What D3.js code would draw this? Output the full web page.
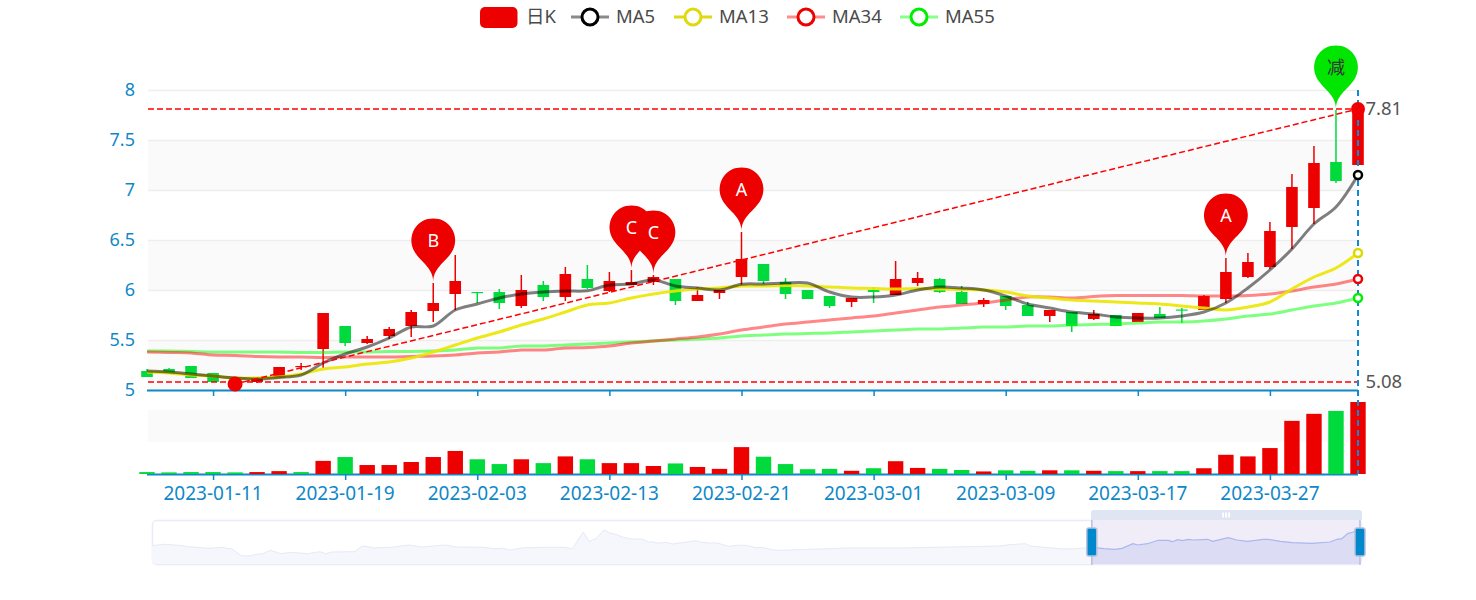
<!DOCTYPE html>
<html><head><meta charset="utf-8">
<script src="https://cdn.jsdelivr.net/npm/d3@7"></script>
<style>html,body{margin:0;padding:0;background:#fff}svg{display:block}text{font-family:"Noto Sans","Noto Sans CJK SC",sans-serif}</style>
</head><body><svg id="c" width="1476" height="600"></svg>
<script>
const tickDates=["2023-01-11","2023-01-19","2023-02-03","2023-02-13","2023-02-21","2023-03-01","2023-03-09","2023-03-17","2023-03-27"];
const tickIndex=[3,9,15,21,27,33,39,45,51];
const priceTicks=[5,5.5,6,6.5,7,7.5,8];
const opens=[5.19,5.21,5.24,5.17,5.09,5.08,5.12,5.24,5.41,5.64,5.47,5.54,5.64,5.79,5.96,5.98,5.98,5.84,6.05,5.93,6.11,5.99,6.05,6.08,6.11,5.89,5.97,6.13,6.26,6.08,6.00,5.94,5.88,6.00,5.95,6.07,6.11,5.98,5.86,5.94,5.85,5.74,5.78,5.71,5.75,5.68,5.76,5.805,5.80,5.91,6.13,6.23,6.63,6.82,7.28,7.25];
const closes=[5.13,5.17,5.12,5.08,5.08,5.12,5.23,5.24,5.77,5.47,5.51,5.61,5.78,5.87,6.09,5.97,5.87,6.00,5.93,6.16,6.02,6.09,6.08,6.13,5.89,5.95,6.00,6.31,6.09,5.96,5.91,5.84,5.92,5.98,6.11,6.12,5.98,5.86,5.90,5.84,5.74,5.80,5.64,5.76,5.64,5.77,5.72,5.795,5.94,6.18,6.28,6.59,7.03,7.27,7.09,7.81];
const lows=[5.13,5.17,5.12,5.08,5.06,5.07,5.12,5.20,5.22,5.44,5.46,5.51,5.53,5.68,5.80,5.87,5.81,5.82,5.89,5.89,6.01,5.98,6.05,6.05,5.85,5.89,5.91,6.05,6.06,5.91,5.91,5.82,5.83,5.87,5.95,6.04,5.97,5.86,5.83,5.80,5.74,5.68,5.58,5.70,5.64,5.68,5.72,5.67,5.80,5.87,6.12,6.21,6.41,6.66,7.07,7.25];
const highs=[5.21,5.22,5.24,5.17,5.09,5.12,5.23,5.27,5.77,5.64,5.54,5.63,5.80,6.07,6.35,5.98,6.01,6.15,6.09,6.23,6.25,6.18,6.20,6.15,6.11,6.03,6.00,6.58,6.26,6.12,6.00,5.94,5.92,6.03,6.29,6.18,6.12,6.04,5.92,5.94,5.88,5.80,5.78,5.80,5.75,5.77,5.83,5.82,5.95,6.32,6.37,6.68,7.16,7.44,7.80,7.81];
const volumes=[.06,.05,.06,.06,.05,.06,.09,.06,.41,.53,.28,.28,.375,.53,.72,.46,.31,.46,.34,.55,.46,.34,.34,.25,.33,.22,.16,.84,.54,.31,.15,.16,.10,.18,.40,.19,.16,.125,.08,.115,.10,.115,.115,.10,.09,.09,.09,.09,.18,.60,.55,.81,1.66,1.88,1.97,2.25];
const ma5=[5.19,5.18,5.16,5.14,5.12,5.11,5.125,5.15,5.27,5.36,5.43,5.52,5.63,5.64,5.80,5.86,5.92,5.96,5.98,5.99,5.993,6.05,6.06,6.10,6.04,6.02,6.00,6.057,6.06,6.07,6.07,5.98,5.93,5.93,5.95,6.00,6.03,6.02,6.00,5.94,5.86,5.82,5.78,5.76,5.73,5.72,5.72,5.74,5.78,5.87,6.02,6.20,6.41,6.66,6.83,7.15];
const ma13=[5.18,5.17,5.15,5.14,5.12,5.12,5.13,5.16,5.21,5.23,5.26,5.28,5.32,5.38,5.45,5.52,5.58,5.65,5.71,5.78,5.85,5.87,5.92,5.96,5.99,6.01,6.02,6.04,6.04,6.045,6.04,6.03,6.02,6.015,6.01,6.015,6.01,6.005,6.00,5.98,5.94,5.92,5.90,5.89,5.88,5.87,5.86,5.84,5.82,5.80,5.83,5.88,6.01,6.13,6.22,6.37];
const ma34=[5.38,5.375,5.37,5.35,5.345,5.335,5.33,5.33,5.325,5.33,5.33,5.33,5.335,5.34,5.35,5.37,5.38,5.40,5.40,5.42,5.425,5.44,5.47,5.49,5.51,5.53,5.56,5.60,5.63,5.66,5.68,5.70,5.72,5.74,5.77,5.80,5.83,5.85,5.87,5.90,5.93,5.93,5.92,5.935,5.945,5.945,5.945,5.945,5.94,5.94,5.945,5.96,5.99,6.03,6.06,6.11];
const ma55=[5.39,5.39,5.385,5.38,5.38,5.38,5.38,5.375,5.375,5.38,5.38,5.385,5.385,5.39,5.40,5.42,5.42,5.44,5.44,5.45,5.46,5.47,5.48,5.49,5.50,5.51,5.52,5.54,5.55,5.56,5.565,5.57,5.58,5.59,5.60,5.61,5.61,5.62,5.63,5.63,5.64,5.64,5.65,5.655,5.66,5.67,5.68,5.68,5.69,5.71,5.74,5.76,5.80,5.84,5.87,5.92];
const pinIndex=[13,22,23,27,49,54];
const pinLabels=["B","C","C","A","A","减"];
const sliderPct=[0,1,2.6,2.9,4.8,5.8,6.3,6.6,7.4,8.1,8.6,9.1,9.8,10.7,11.5,12.9,13.9,14.4,14.9,16.8,17.4,17.9,18.3,19.8,21.3,22.3,24.3,25.2,27.4,28.4,29.1,29.6,30.8,31.6,32.3,34.1,34.8,35.7,36.2,36.8,37.4,37.9,38.4,39,39.7,40.6,41.1,41.4,41.9,42.6,43.1,43.8,45.1,45.5,46.1,46.8,47.7,48.5,49.2,50,50.5,51.4,52,57.8,61.9,66,70.2,71,72.3,72.7,73.8,75.4,76.5,77.8,78.8,79.7,80.3,81.2,81.6,82.4,83.3,84.1,84.5,84.9,85.3,85.8,86.2,87.4,87.8,89.1,89.8,90.7,92,92.4,93.4,94.4,96,97.5,98.1,98.5,99,99.4,100];
const sliderLevel=[18.3,19.7,18.3,17.3,15.7,16.7,15.3,15.3,8.3,8,9.7,10,13.7,10.3,11.7,10.3,12.3,10.3,12,12.3,18,17.3,16,16.7,19,17,19,17,16.7,15.3,15.7,14,16.3,16.3,16.7,16.7,15.3,32,22.7,25.7,34,31,29.7,26.7,25,25,21.7,22.3,20.7,21.7,20,21.3,23.3,21.7,21,21,17.7,18.7,18.7,16.3,16.7,14,13.7,16,16,17,18,19.3,20.3,18,16.7,15,15.3,16.7,15.3,14.7,15.7,20.3,19,20.3,23.7,23.7,22.3,24.3,23.3,24.7,24,24.7,22.7,26.3,24,22.7,24.7,24.7,22.7,21.3,20.7,22,24.7,25.3,30.7,31.7,35.7];
const maNames=["MA5","MA13","MA34","MA55"];

const RED="#ec0000",GREEN="#00da3c",AXIS="#0f88c8",TXT="#4a4a4a";
const svg=d3.select("#c");
const n=closes.length;
const x=d3.scaleLinear().domain([0,n-1]).range([147,1358]);
const y=d3.scaleLinear().domain([5,8]).range([390,90]);
const v=d3.scaleLinear().domain([0,2]).range([474,410]);

// price bands
const gBands=svg.append("g");
d3.pairs(priceTicks).forEach(([a,b],i)=>{
  if(i%2===0) gBands.append("rect").attr("x",148).attr("width",1210).attr("y",y(b)).attr("height",y(a)-y(b)).attr("fill","#fafafa");
});
gBands.selectAll("line").data(priceTicks.slice(1)).join("line")
  .attr("x1",148).attr("x2",1358).attr("y1",d=>y(d)+.5).attr("y2",d=>y(d)+.5).attr("stroke","#eeeeee").attr("stroke-width",1.5);
gBands.append("rect").attr("x",148).attr("width",1210).attr("y",v(2)).attr("height",v(1)-v(2)).attr("fill","#fafafa");

// axes
const priceAxis=d3.axisLeft(y).tickValues(priceTicks).tickSize(0).tickPadding(0).tickFormat(d3.format("~g"));
const gY=svg.append("g").attr("transform","translate(135,0)").call(priceAxis);
gY.select(".domain").remove();
gY.selectAll("text").attr("fill",AXIS).attr("font-size",18).attr("font-family","Noto Sans");
const axisB=d3.axisBottom(x).tickValues(tickIndex).tickSize(6).tickFormat(()=>"");
[390,474].forEach(yy=>{
  const g=svg.append("g").attr("transform",`translate(0,${yy})`).call(axisB);
  g.select(".domain").attr("d","M147,0.5H1358").attr("stroke",AXIS).attr("stroke-width",2);
  g.selectAll(".tick line").attr("stroke",AXIS).attr("stroke-width",1.5);
});
svg.append("g").selectAll("text").data(tickIndex).join("text")
  .attr("x",d=>x(d)).attr("y",500).attr("text-anchor","middle").attr("fill",AXIS).attr("font-size",19)
  .text((d,i)=>tickDates[i]);

// volumes
svg.append("g").selectAll("rect").data(volumes).join("rect")
  .attr("x",(d,i)=>x(i)-7.7).attr("width",15.4).attr("y",d=>v(d)).attr("height",d=>v(0)-v(d))
  .attr("fill",(d,i)=>closes[i]>opens[i]?RED:GREEN);

// candles
const isUp=i=>closes[i]>=opens[i];
const gC=svg.append("g");
gC.selectAll("line").data(d3.range(n)).join("line")
  .attr("x1",x).attr("x2",x).attr("y1",i=>y(highs[i])).attr("y2",i=>y(lows[i]))
  .attr("stroke",i=>isUp(i)?RED:GREEN).attr("stroke-width",1.5);
gC.selectAll("rect").data(d3.range(n)).join("rect")
  .attr("x",i=>x(i)-5.8).attr("width",11.6)
  .attr("y",i=>y(Math.max(opens[i],closes[i])))
  .attr("height",i=>Math.max(1.2,Math.abs(y(opens[i])-y(closes[i]))))
  .attr("fill",i=>isUp(i)?RED:GREEN);

// MA lines
const maPath=d3.line().x((d,i)=>x(i)).y(d=>y(d)).curve(d3.curveCatmullRom.alpha(.5));
const maSeries=[[ma55,"#00ff00",.5],[ma34,"#ff0000",.47],[ma13,"#ebe500",.9],[ma5,"#000000",.5]];
maSeries.forEach(([d,c,o])=>svg.append("path").attr("d",maPath(d)).attr("fill","none").attr("stroke",c).attr("stroke-opacity",o).attr("stroke-width",3));

// mark lines
const dashed={stroke:"#ff0000","stroke-width":1.5,"stroke-dasharray":"6,3",fill:"none"};
const applyAll=(s,o)=>{Object.entries(o).forEach(([k,val])=>s.attr(k,val));return s;};
const maxClose=d3.max(closes),minClose=d3.min(closes);
[maxClose,minClose].forEach(val=>{
  applyAll(svg.append("line").attr("x1",148).attr("x2",1358).attr("y1",y(val)).attr("y2",y(val)),dashed);
  svg.append("text").attr("x",1365.5).attr("y",y(val)+6).attr("fill","#555").attr("font-size",18.5).text(val.toFixed(2));
});
const minI=d3.least(d3.range(n),i=>lows[i]);
applyAll(svg.append("line").attr("x1",x(minI)).attr("y1",y(lows[minI])).attr("x2",x(n-1)).attr("y2",y(maxClose)),dashed);

// pointer
svg.append("line").attr("x1",x(n-1)).attr("x2",x(n-1)).attr("y1",90).attr("y2",474)
  .attr("stroke","#0f88d8").attr("stroke-width",2).attr("stroke-dasharray","6,4");

svg.append("circle").attr("cx",x(minI)).attr("cy",y(lows[minI])).attr("r",7.5).attr("fill","#f00000");
svg.append("circle").attr("cx",x(n-1)).attr("cy",y(maxClose)).attr("r",7).attr("fill","#f00000");

// end rings
[[ma5,"#000000"],[ma13,"#dcd800"],[ma34,"#ee0000"],[ma55,"#00ee00"]].forEach(([d,c])=>
  svg.append("circle").attr("cx",x(n-1)).attr("cy",y(d[n-1])).attr("r",4).attr("fill","#fff").attr("stroke",c).attr("stroke-width",2.5));

// pins
function pinPath(px,py,size){
  const w=size*.6,h=size,r=w/2,dy=r*r/(h-r),cy=py-h+r+dy,ang=Math.asin(dy/r),dx=Math.cos(ang)*r,tx=Math.sin(ang),ty=Math.cos(ang),c1=r*.6,c2=r*.7;
  const p=d3.path();
  p.moveTo(px-dx,cy+dy);
  p.arc(px,cy,r,Math.PI-ang,Math.PI*2+ang);
  p.bezierCurveTo(px+dx-tx*c1,cy+dy+ty*c1,px,py-c2,px,py);
  p.bezierCurveTo(px,py-c2,px-dx+tx*c1,cy+dy+ty*c1,px-dx,cy+dy);
  return {d:p.toString(),cy};
}
const pinShapes=pinIndex.map(idx=>pinPath(x(idx),y(highs[idx])-1,73));
pinIndex.forEach((idx,k)=>{
  svg.append("path").attr("d",pinShapes[k].d).attr("fill",pinLabels[k]==="减"?"#00e600":RED);
});
pinIndex.forEach((idx,k)=>{
  const isCut=pinLabels[k]==="减";
  svg.append("text").attr("x",x(idx)).attr("y",pinShapes[k].cy+6.5).attr("text-anchor","middle").attr("font-size",18)
    .attr("fill",isCut?"#333":"#fff").text(pinLabels[k]);
});

// legend
const legend=svg.append("g");
legend.append("rect").attr("x",480).attr("y",7).attr("width",37.5).attr("height",21).attr("rx",5).attr("fill",RED);
legend.append("text").attr("x",526).attr("y",23).attr("fill",TXT).attr("font-size",18.5).text("日K");
const legendStyle=[["#8a8a8a","#000000",571,616],["#dfda10","#dfda10",674,719],["#ff8b8b","#ee0000",787,832],["#88ff88","#00ee00",900,945]];
legendStyle.forEach(([lc,rc,lx,tx],i)=>{
  legend.append("line").attr("x1",lx).attr("x2",lx+38).attr("y1",17).attr("y2",17).attr("stroke",lc).attr("stroke-width",3);
  legend.append("circle").attr("cx",lx+19).attr("cy",17).attr("r",8).attr("fill","#fff").attr("stroke",rc).attr("stroke-width",3);
  legend.append("text").attr("x",tx).attr("y",23).attr("fill",TXT).attr("font-size",18.5).text(maNames[i]);
});

// slider
const sx=d3.scaleLinear().domain([0,100]).range([152,1360]);
const sy=d3.scaleLinear().domain([0,44]).range([564,520]);
const area=d3.area().x(d=>sx(d[0])).y0(564).y1(d=>sy(d[1]));
const sline=d3.line().x(d=>sx(d[0])).y(d=>sy(d[1]));
const pts=sliderPct.map((p,i)=>[p,sliderLevel[i]]);
const selStart=77.8;
const ptsA=pts.filter(d=>d[0]<=selStart),ptsB=pts.filter(d=>d[0]>=selStart);
svg.append("rect").attr("x",152.5).attr("y",520.5).attr("width",1209).attr("height",44).attr("rx",4).attr("fill","#fff").attr("stroke","#ebecfa").attr("stroke-width",1.5);
svg.append("path").attr("d",area(ptsA)).attr("fill","#f6f7fc");
svg.append("path").attr("d",sline(ptsA)).attr("fill","none").attr("stroke","#e6e9f7").attr("stroke-width",1);
svg.append("rect").attr("x",sx(selStart)).attr("y",520).attr("width",sx(100)-sx(selStart)).attr("height",44).attr("fill","#f0ecf8");
svg.append("path").attr("d",area(ptsB)).attr("fill","#dddcf5");
svg.append("path").attr("d",sline(ptsB)).attr("fill","none").attr("stroke","#a9b8ef").attr("stroke-width",1.2);
svg.append("path").attr("d","M1091,520V513a3,3 0 0 1 3,-3H1359a3,3 0 0 1 3,3V520Z").attr("fill","#dfe5f2");
[1223,1226,1229].forEach(gx=>svg.append("rect").attr("x",gx-.8).attr("y",512.5).attr("width",1.8).attr("height",5).attr("fill","#fff"));
[sx(selStart),sx(100)].forEach(hx=>{
  svg.append("line").attr("x1",hx).attr("x2",hx).attr("y1",520).attr("y2",565).attr("stroke","#b4c0dc").attr("stroke-width",1.5);
  svg.append("rect").attr("x",hx-5).attr("y",528).attr("width",10).attr("height",28).attr("rx",2).attr("fill","#0088cc").attr("stroke","#b4c0dc").attr("stroke-width",1.5);
});
</script></body></html>
